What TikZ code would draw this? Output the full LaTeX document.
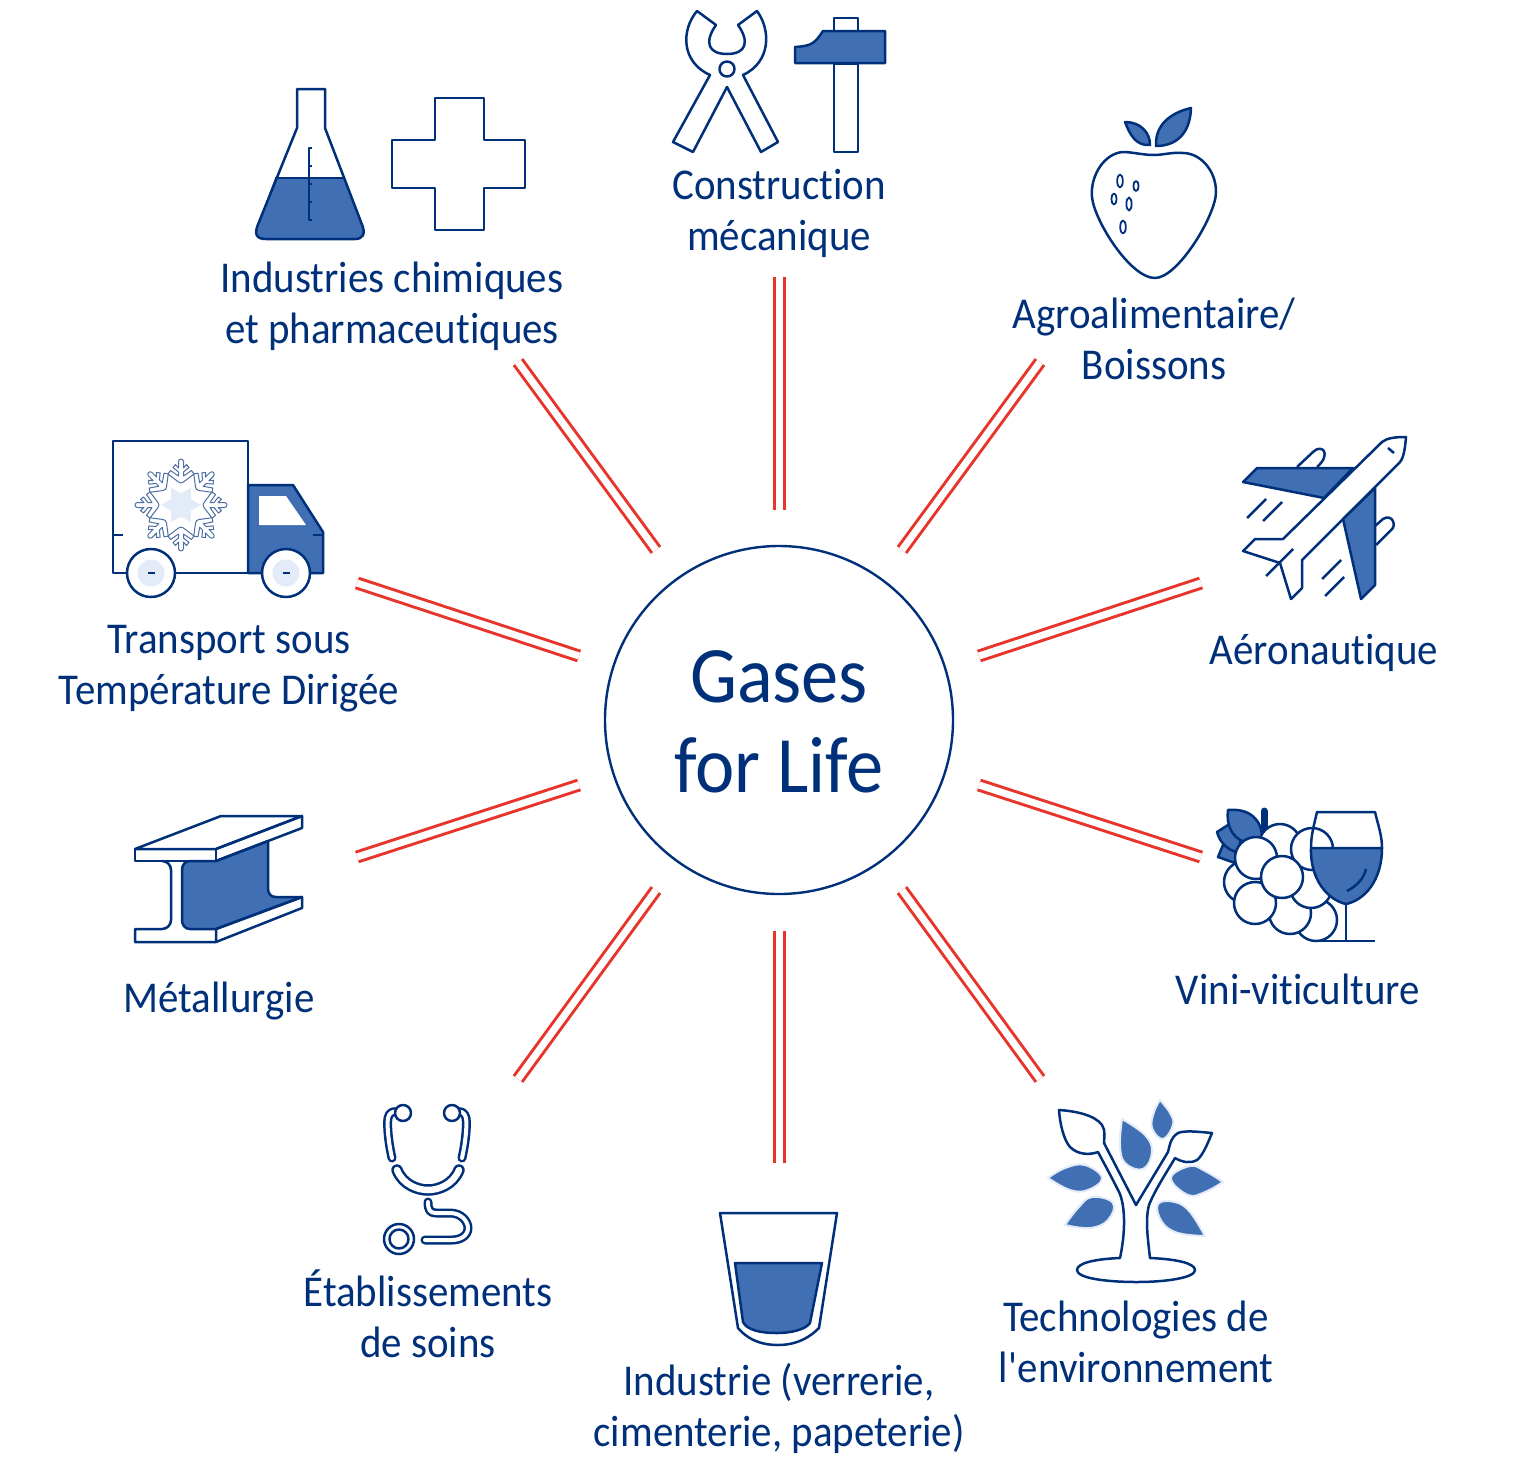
\documentclass[tikz,border=0pt]{standalone}
\usepackage{fontspec}
\setmainfont{Carlito}[FakeStretch=0.93,Ligatures={NoCommon,TeX}]
\definecolor{dk}{HTML}{003079}
\definecolor{md}{HTML}{4070B3}
\definecolor{lt}{HTML}{E3EBF8}
\definecolor{rd}{HTML}{E8352B}
\tikzset{
 ic/.style={draw=dk,line width=2.5pt,line join=round,line cap=butt},
 bl/.style={ic,fill=md},
 wh/.style={ic,fill=white},
 leaf/.style={draw=lt,line width=2pt,fill=md},
 tube/.style={draw=dk,double=white,line width=2.5pt,double distance=4pt,line cap=round,line join=round},
 spoke/.style={draw=rd,double=white,line width=3pt,double distance=7pt},
 lab/.style={text=dk,align=center,font=\fontsize{44}{51}\selectfont,inner sep=0pt},
 flake/.style={draw=dk!70,line width=1pt,line join=round},
}
\begin{document}
\begin{tikzpicture}[x=1pt,y=-1pt]
\useasboundingbox (0,0) rectangle (1518,1470);
% centre
\node[circle,draw=dk,line width=2.4pt,minimum size=348pt,inner sep=0pt] (hub) at (779,720) {};
\node[text=dk,align=center,inner sep=0pt,font=\fontsize{80}{90}\selectfont] (hubtext) at (779,722) {Gases\\for Life};
% spokes
\coordinate (s1a) at (779,277);\coordinate (s1b) at (779,510);
\coordinate (s2a) at (1040,362);\coordinate (s2b) at (902,550);
\coordinate (s3a) at (1201,583);\coordinate (s3b) at (979,656);
\coordinate (s4a) at (1201,857);\coordinate (s4b) at (979,785);
\coordinate (s5a) at (1040,1079);\coordinate (s5b) at (902,890);
\coordinate (s6a) at (779,1163);\coordinate (s6b) at (779,931);
\coordinate (s7a) at (518,1079);\coordinate (s7b) at (656,890);
\coordinate (s8a) at (357,857);\coordinate (s8b) at (579,785);
\coordinate (s9a) at (357,583);\coordinate (s9b) at (579,656);
\coordinate (s10a) at (518,362);\coordinate (s10b) at (656,550);
\foreach \i in {1,...,10} \draw[spoke] (s\i a) -- (s\i b);
% labels
\node[lab] (l1) at (779,213) {Construction\\mécanique};
\node[lab] (l2) at (1154,339) {Agroalimentaire/\\Boissons};
\node[lab] (l3) at (1324,653) {Aéronautique};
\node[lab] (l4) at (1298,989) {Vini-viticulture};
\node[lab] (l5) at (1136,1342) {Technologies de\\l\textquotesingle environnement};
\node[lab] (l6) at (779,1408) {Industrie (verrerie,\\cimenterie, papeterie)};
\node[lab] (l7) at (428,1314) {Établissements\\de soins};
\node[lab] (l8) at (219,1001) {Métallurgie};
\node[lab] (l9) at (229,669) {Transport sous\\Température Dirigée};
\node[lab] (l10) at (392,306) {Industries chimiques\\et pharmaceutiques};
% flask
\fill[md] (275,178) -- (344,178) -- (361,222) .. controls (367,235) and (362,239) .. (355,239) -- (266,239) .. controls (257,239) and (253,235) .. (259,222) -- cycle;
\draw[ic] (297,128) -- (297,89) -- (325,89) -- (325,128) -- (361,222) .. controls (367,235) and (362,239) .. (355,239) -- (266,239) .. controls (257,239) and (253,235) .. (259,222) -- cycle;
\draw[ic] (275,178) -- (344,178);
\draw[ic,line width=1.8pt] (312,148) -- (309,148) -- (309,220) -- (312,220) (309,166) -- (312,166) (309,184) -- (312,184) (309,202) -- (312,202);
% cross
\draw[ic] (435,98) -- (484,98) -- (484,140) -- (525,140) -- (525,188) -- (484,188) -- (484,230) -- (435,230) -- (435,188) -- (392,188) -- (392,140) -- (435,140) -- cycle;
% pliers
\draw[ic] (697,11) -- (716,25) .. controls (704,42) and (708,54) .. (727,54) .. controls (746,54) and (750,42) .. (738,25) -- (757,11) .. controls (771,30) and (771,62) .. (743,75) -- (778,142) -- (761,152) -- (727,87) -- (693,152) -- (673,142) -- (710,75) .. controls (681,62) and (681,30) .. (697,11) -- cycle;
\draw[ic] (727,69) circle (7.5);
% hammer
\draw[ic] (834,31) -- (834,18) -- (858,18) -- (858,31);
\draw[ic] (834,64) rectangle (858,152);
\draw[bl] (795,63) -- (885,63) -- (885,31) -- (823,31) .. controls (815,43) and (812,46) .. (795,47) -- cycle;
% strawberry
\draw[ic] (1154,155) .. controls (1143,155) and (1132,152) .. (1123,152) .. controls (1105,153) and (1090,175) .. (1092,197) .. controls (1094,220) and (1130,278) .. (1155,278) .. controls (1178,278) and (1216,215) .. (1216,192) .. controls (1216,170) and (1200,153) .. (1183,153) .. controls (1172,152) and (1163,155) .. (1154,155) -- cycle;
\draw[bl] (1125,122) .. controls (1140,122) and (1150,132) .. (1150,145) .. controls (1136,146) and (1130,135) .. (1125,122) -- cycle;
\draw[bl] (1191,108) .. controls (1170,113) and (1155,125) .. (1156,146) .. controls (1175,146) and (1190,135) .. (1191,108) -- cycle;
\draw[ic,line width=1.8pt] (1120,181) ellipse (2.8 and 6.5) (1136,186) ellipse (2.6 and 5) (1114,199) ellipse (2.6 and 5.5) (1129,204) ellipse (2.6 and 6.5) (1123,227) ellipse (2.8 and 6.5);
% plane
\draw[ic] (1406,437) .. controls (1395,437) and (1387,438) .. (1382,442) -- (1283,539) -- (1255,539) -- (1243,551) -- (1280,563) -- (1291,599) -- (1302,588) -- (1302,560) -- (1400,462) .. controls (1404,457) and (1405,448) .. (1406,437) -- cycle;
\draw[bl] (1257,468) -- (1353,468) -- (1324,498) -- (1243,482) -- cycle;
\draw[bl] (1375,488) -- (1343,519) -- (1361,599) -- (1375,585) -- cycle;
\draw[ic] (1297,467) -- (1313,452) .. controls (1322,443) and (1332,454) .. (1317,467);
\draw[ic] (1375,526) -- (1383,519) .. controls (1392,513) and (1398,526) .. (1390,531) -- (1376,545);
\draw[ic] (1266,499) -- (1247,518) (1282,502) -- (1263,521) (1341,560) -- (1322,579) (1344,577) -- (1325,596) (1293,549) -- (1266,576) (1388,448) -- (1394,453);
% grapes
\draw[line width=7pt,dk,line cap=round] (1264,811) -- (1264,835);
\draw[bl] (1223,845) -- (1218,857) -- (1235,863) -- (1240,845) -- cycle;
\draw[bl] (1228,825) -- (1217,832) .. controls (1220,842) and (1226,850) .. (1240,853) -- (1240,830) -- cycle;
\draw[bl] (1228,810) .. controls (1250,808) and (1262,820) .. (1262,838) -- (1245,842) .. controls (1232,838) and (1226,825) .. (1228,810) -- cycle;
\foreach \x/\y in {1280/845,1245/882,1316/920,1290/913,1311/887,1312/849,1256/858,1255/903,1282/877}
 \draw[wh] (\x,\y) circle (21);
% wine glass
\draw[bl] (1311,848) -- (1382,848) .. controls (1382,880) and (1365,900) .. (1346,904) .. controls (1328,900) and (1310,880) .. (1311,848) -- cycle;
\draw[ic] (1311,848) .. controls (1311,835) and (1314,825) .. (1317,812) -- (1375,812) .. controls (1378,825) and (1382,835) .. (1382,848);
\draw[ic] (1346,904) -- (1346,941) (1317,941) -- (1375,941);
\draw[ic] (1366,869) .. controls (1364,878) and (1357,886) .. (1347,891);
% tree
\draw[leaf] plot[smooth,tension=.7] coordinates {(1160,1100)(1170,1113)(1173,1125)(1163,1139)(1152,1128)(1154,1112)(1160,1100)} -- cycle;
\draw[leaf] plot[smooth,tension=.7] coordinates {(1122,1119)(1145,1135)(1152,1152)(1143,1169)(1125,1163)(1120,1145)(1122,1119)} -- cycle;
\draw[leaf] plot[smooth,tension=.7] coordinates {(1048,1178)(1065,1168)(1085,1165)(1102,1178)(1088,1190)(1070,1190)(1048,1178)} -- cycle;
\draw[leaf] plot[smooth,tension=.7] coordinates {(1065,1225)(1078,1208)(1092,1197)(1113,1203)(1108,1220)(1090,1228)(1065,1225)} -- cycle;
\draw[leaf] plot[smooth,tension=.7] coordinates {(1223,1182)(1205,1171)(1190,1166)(1171,1178)(1188,1195)(1205,1192)(1223,1182)} -- cycle;
\draw[leaf] plot[smooth,tension=.7] coordinates {(1205,1236)(1190,1212)(1175,1202)(1158,1204)(1162,1222)(1178,1233)(1205,1236)} -- cycle;
\draw[ic] (1120,1258) .. controls (1127,1225) and (1124,1200) .. (1118,1190) .. controls (1112,1178) and (1105,1165) .. (1098,1152) .. controls (1090,1155) and (1078,1155) .. (1070,1147) .. controls (1064,1140) and (1060,1125) .. (1059,1110) .. controls (1075,1111) and (1095,1115) .. (1102,1125) .. controls (1106,1131) and (1104,1138) .. (1104,1143) -- (1136,1205) -- (1168,1152) .. controls (1170,1145) and (1170,1138) .. (1178,1133) .. controls (1185,1130) and (1200,1132) .. (1212,1133) .. controls (1207,1145) and (1203,1155) .. (1197,1160) .. controls (1190,1164) and (1182,1162) .. (1175,1158) .. controls (1165,1175) and (1155,1190) .. (1149,1205) .. controls (1145,1220) and (1148,1240) .. (1150,1258) .. controls (1175,1259) and (1195,1263) .. (1195,1270) .. controls (1195,1278) and (1165,1282) .. (1137,1282) .. controls (1105,1282) and (1077,1278) .. (1077,1270) .. controls (1077,1263) and (1095,1259) .. (1120,1258) -- cycle;
% glass
\draw[ic] (720,1213) -- (837,1213) -- (819,1328) .. controls (805,1342) and (790,1345) .. (778,1345) .. controls (765,1345) and (750,1342) .. (738,1328) -- cycle;
\draw[bl] (735,1263) -- (822,1263) -- (810,1323) .. controls (805,1330) and (790,1333) .. (777,1333) .. controls (760,1333) and (747,1330) .. (743,1322) -- cycle;
% stethoscope
\draw[tube] (392,1158) .. controls (388,1140) and (387,1125) .. (388,1118) .. controls (389,1112) and (394,1111) .. (397,1112);
\draw[tube] (462,1158) .. controls (466,1140) and (467,1125) .. (466,1118) .. controls (465,1112) and (460,1111) .. (457,1112);
\draw[ic,fill=white] (403,1113) circle (8) (452,1113) circle (8);
\draw[tube,double distance=6.5pt] (397,1170) .. controls (403,1185) and (418,1190) .. (428,1190) .. controls (438,1190) and (453,1185) .. (459,1170);
\draw[tube] (428,1202) .. controls (428,1210) and (430,1213) .. (436,1213) -- (450,1213) .. controls (462,1213) and (468,1222) .. (468,1228) .. controls (468,1236) and (460,1240) .. (452,1240) -- (425,1240);
\draw[ic] (399,1239) circle (15) (399,1239) circle (9.5);
% beam
\draw[bl] (216,861) -- (268,841) -- (268,888) .. controls (268,894) and (271,897) .. (276,897) -- (302,897) -- (216,929) -- (190,929) .. controls (185,929) and (182,925) .. (182,920) -- (182,870) .. controls (182,865) and (185,861) .. (190,861) -- cycle;
\draw[ic] (135,849) -- (221,816) -- (302,816) -- (216,849) -- cycle;
\draw[ic] (135,849) -- (216,849) -- (216,861) -- (162,861) -- (135,861) -- cycle;
\draw[ic] (216,849) -- (302,816) -- (302,828) -- (216,861);
\draw[ic] (162,861) .. controls (167,861) and (171,865) .. (171,870) -- (171,920) .. controls (171,925) and (167,929) .. (162,929) -- (135,929) -- (135,942) -- (216,942) -- (216,929);
\draw[ic] (216,929) -- (302,897) -- (302,908) -- (216,942);
% truck
\draw[bl] (248,573) -- (248,485) -- (293,485) -- (323,532) -- (323,573) -- cycle;
\fill[white] (259,496) -- (286,496) -- (306,525) -- (259,525) -- cycle;
\draw[ic] (248,573) -- (113,573) -- (113,441) -- (248,441) -- (248,485);
\draw[ic] (113,535) -- (123,535) (313,535) -- (323,535);
\fill[lt,shift={(181,505)}] (0:20) \foreach \k in {0,...,5} {-- (\k*60+30:11.5) -- (\k*60+60:20)} -- cycle;
\foreach \a in {0,45,...,315}
 \draw[flake,shift={(181,505)},rotate=\a] (22,0) -- (23,2.5) -- (31,13) -- (34.5,10.5) -- (29,2.5) -- (33,2.5) -- (37.5,8) -- (40.5,5.5) -- (37,2.5) -- (43.5,2.5) arc (90:-90:2.5) -- (37,-2.5) -- (40.5,-5.5) -- (37.5,-8) -- (33,-2.5) -- (29,-2.5) -- (34.5,-10.5) -- (31,-13) -- (23,-2.5) -- cycle;
\foreach \x in {151,286} {
 \draw[wh] (\x,573) circle (24);
 \fill[lt] (\x,573) circle (13.5);
 \draw[ic] (\x-3.5,573) -- (\x+3.5,573);
}
\end{tikzpicture}
\end{document}
